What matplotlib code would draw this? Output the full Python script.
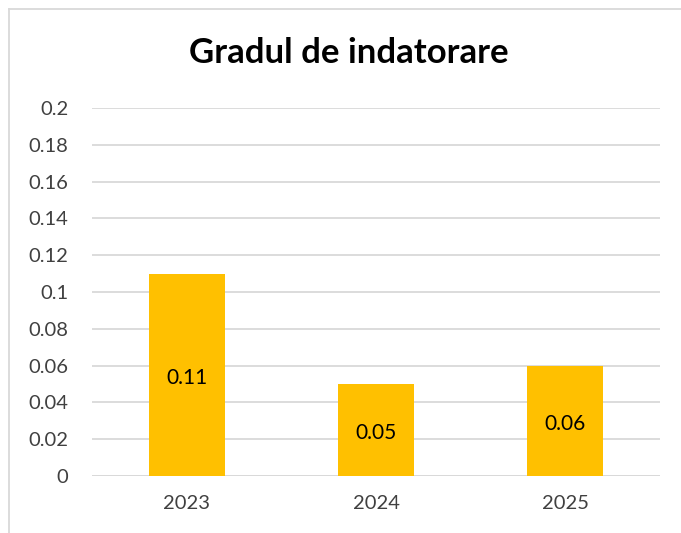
import matplotlib
matplotlib.use("Agg")
import matplotlib.pyplot as plt
from matplotlib.lines import Line2D

categories = ["2023", "2024", "2025"]
values = [0.11, 0.05, 0.06]
yticks = [0, 0.02, 0.04, 0.06, 0.08, 0.1, 0.12, 0.14, 0.16, 0.18, 0.2]
ytick_labels = ["0", "0.02", "0.04", "0.06", "0.08", "0.1", "0.12", "0.14", "0.16", "0.18", "0.2"]
title = "Gradul de indatorare"

plt.rcParams['font.family'] = ['Lato', 'DejaVu Sans']
fig = plt.figure(figsize=(6.81, 5.33), dpi=100)
ax = fig.add_axes([92/681, 1-476/533, (660-92)/681, (476-108)/533])

x = list(range(len(categories)))
bars = ax.bar(x, values, width=0.4, color="#FFC000", zorder=3)
ax.set_xlim(-0.5, len(categories)-0.5)
ax.set_ylim(0, 0.2)
ax.set_yticks(yticks)
ax.set_yticklabels(ytick_labels)
ax.set_xticks(x)
ax.set_xticklabels(categories)
ax.grid(axis='y', color="#D9D9D9", linewidth=1.3, zorder=0)
for s in ax.spines.values():
    s.set_visible(False)
ax.tick_params(axis='both', length=0, labelsize=14.5, colors="#404040")
ax.tick_params(axis='y', pad=17)
ax.tick_params(axis='x', pad=14)
ax.axhline(0, color="#D9D9D9", linewidth=1.3, zorder=2)

for xi, v in zip(x, values):
    ax.annotate(f"{v:g}", (xi, v/2), xytext=(0, -3), textcoords='offset pixels',
                ha='center', va='center', fontsize=15, color="#000000", zorder=4)

fig.text(349/681, 1-53/533, title, ha='center', va='center', fontsize=25, fontweight='bold', color="#000000")

# chart border (left and top visible)
fig.add_artist(Line2D([9/681, 9/681], [0, 1-9/533], transform=fig.transFigure, color="#D9D9D9", linewidth=1.3))
fig.add_artist(Line2D([9/681, 1], [1-9/533, 1-9/533], transform=fig.transFigure, color="#D9D9D9", linewidth=1.3))

fig.savefig("out.png", dpi=100)
